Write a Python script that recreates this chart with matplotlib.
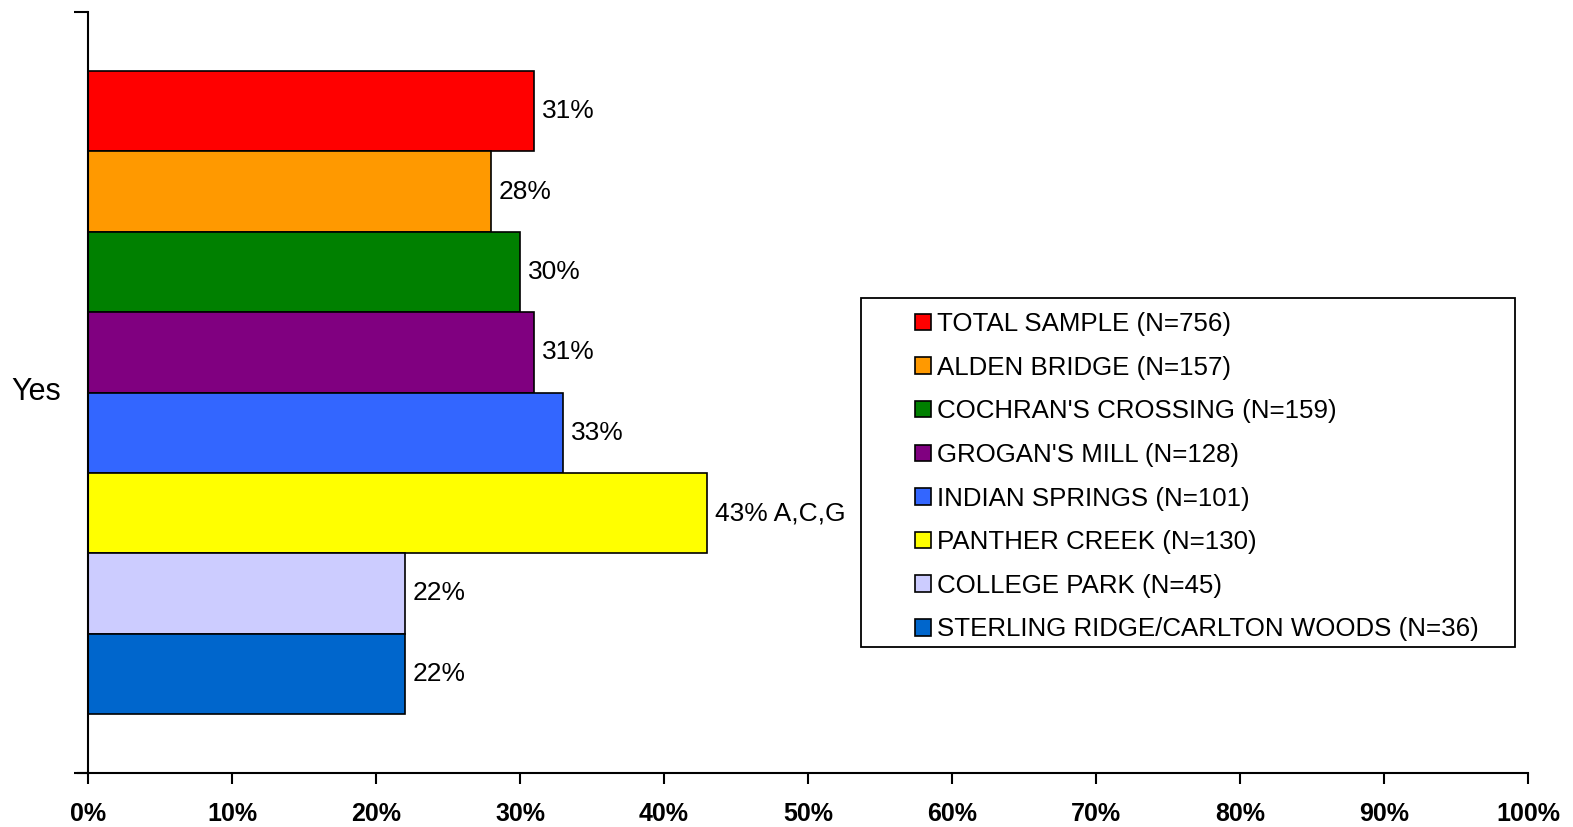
import matplotlib.pyplot as plt
import matplotlib.patches as mpatches
import numpy as np

plt.rcParams['font.family'] = ['Liberation Sans', 'DejaVu Sans']

# Data
groups = ['TOTAL SAMPLE (N=756)', 'ALDEN BRIDGE (N=157)', "COCHRAN'S CROSSING (N=159)",
          "GROGAN'S MILL (N=128)", 'INDIAN SPRINGS (N=101)', 'PANTHER CREEK (N=130)',
          'COLLEGE PARK (N=45)', 'STERLING RIDGE/CARLTON WOODS (N=36)']
values = [31, 28, 30, 31, 33, 43, 22, 22]
labels = ['31%', '28%', '30%', '31%', '33%', '43% A,C,G', '22%', '22%']
colors = ['#FF0000', '#FF9900', '#008000', '#800080', '#3366FF', '#FFFF00', '#CCCCFF', '#0066CC']
category = 'Yes'

W, H = 1573, 827
fig = plt.figure(figsize=(W / 100, H / 100), dpi=100)
ax = fig.add_axes([88 / W, 1 - 773 / H, (1528 - 88) / W, (773 - 12) / H])

n = len(values)
h = 0.1056
handles = []
for i, (v, c, lab, g) in enumerate(zip(values, colors, labels, groups)):
    yc = (n / 2 - 0.5 - i) * h
    b = ax.barh(yc, v, height=h, color=c, edgecolor='black', linewidth=1.2, label=g)
    handles.append(b)
    ax.text(v + 0.55, yc, lab, va='center', ha='left', fontsize=19)

ax.set_xlim(0, 100)
ax.set_ylim(-0.5, 0.5)
ax.set_xticks(np.arange(0, 101, 10))
ax.set_xticklabels([f'{t}%' for t in range(0, 101, 10)], fontsize=18, fontweight='bold')
ax.set_yticks([-0.5, 0.5])
ax.set_yticklabels(['', ''])
ax.tick_params(axis='x', direction='out', length=8, width=1.5, pad=13)
ax.tick_params(axis='y', direction='out', length=10, width=1.5)
for s in ['top', 'right']:
    ax.spines[s].set_visible(False)
for s in ['left', 'bottom']:
    ax.spines[s].set_linewidth(1.5)
ax.spines['bottom'].set_bounds(-0.7, 100)

fig.text(36 / W, 1 - 392 / H, category, ha='center', va='center', fontsize=22)

# legend box
frame = mpatches.Rectangle((861 / W, 1 - 647 / H), (1515 - 861) / W, (647 - 298) / H,
                           transform=fig.transFigure, facecolor='white', edgecolor='black',
                           linewidth=1.3, zorder=5)
fig.patches.append(frame)
leg = fig.legend(handles=handles, loc='upper left',
                 bbox_to_anchor=(915 / W, 1 - 312 / H), bbox_transform=fig.transFigure,
                 frameon=False, fontsize=18.6,
                 handlelength=0.6, handleheight=0.6, handletextpad=0.27,
                 labelspacing=0.76, borderpad=0, borderaxespad=0)
leg.set_zorder(6)

fig.savefig('out.png', dpi=100)
